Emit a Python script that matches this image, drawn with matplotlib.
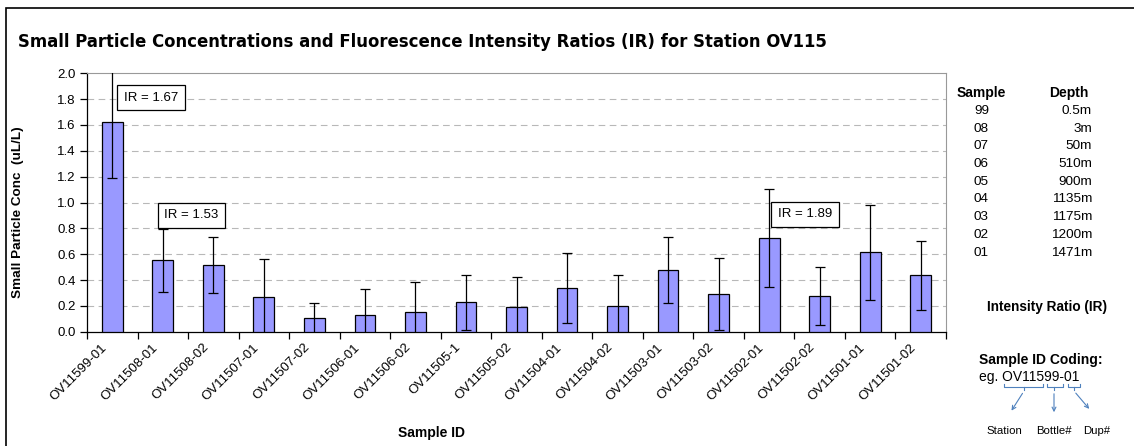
import matplotlib
matplotlib.use("Agg")
import matplotlib.pyplot as plt
from matplotlib.patches import Rectangle, FancyArrowPatch

plt.rcParams['font.family'] = ['Liberation Sans', 'DejaVu Sans']

# данные
samples = ["OV11599-01", "OV11508-01", "OV11508-02", "OV11507-01", "OV11507-02",
           "OV11506-01", "OV11506-02", "OV11505-1", "OV11505-02", "OV11504-01",
           "OV11504-02", "OV11503-01", "OV11503-02", "OV11502-01", "OV11502-02",
           "OV11501-01", "OV11501-02"]
conc = [1.625, 0.553, 0.516, 0.266, 0.106, 0.129, 0.155, 0.227, 0.189, 0.341,
        0.197, 0.478, 0.292, 0.728, 0.276, 0.614, 0.437]
err = [0.435, 0.245, 0.22, 0.30, 0.114, 0.204, 0.227, 0.21, 0.232, 0.272,
       0.245, 0.256, 0.28, 0.38, 0.226, 0.37, 0.266]

ir_labels = ["IR = 1.67", "IR = 1.53", "IR = 1.89"]
ir_pos = [(0.77, 1.81), (1.57, 0.90), (13.71, 0.91)]

sample_no = ["99", "08", "07", "06", "05", "04", "03", "02", "01"]
depths = ["0.5m", "3m", "50m", "510m", "900m", "1135m", "1175m", "1200m", "1471m"]

W, H = 1134, 446
fig = plt.figure(figsize=(W / 100, H / 100), dpi=100)

# рамка вокруг диаграммы
fig.patches.append(Rectangle((6 / W, -0.1), 1.2, 1 - 7.5 / H + 0.1, transform=fig.transFigure,
                             fill=False, edgecolor='black', linewidth=1.2))

ax = fig.add_axes([87 / W, 1 - 331.7 / H, (946 - 87) / W, (331.7 - 73.3) / H])

x = list(range(len(samples)))
ax.bar(x, conc, width=0.41, color='#9999ff', edgecolor='black', linewidth=0.9, zorder=3)
ax.errorbar(x, conc, yerr=err, fmt='none', ecolor='black', elinewidth=0.9,
            capsize=3.5, capthick=0.9, zorder=4)

ax.set_xlim(-0.5, len(samples) - 0.5)
ax.set_ylim(0, 2.0)
ax.set_yticks([i * 0.2 for i in range(11)])
ax.set_yticklabels([f"{i * 0.2:.1f}" for i in range(11)], fontsize=9.5)
for i in range(1, 10):
    ax.axhline(i * 0.2, color='#b8b8b8', linestyle=(0, (6, 4)), linewidth=0.8, zorder=1)

# большие тики на границах категорий, подписи чуть левее центра
ax.set_xticks([i + 0.5 for i in range(-1, len(samples))], minor=False)
ax.set_xticklabels([])
ax.set_xticks([i - 0.22 for i in x], minor=True)
ax.set_xticklabels(samples, minor=True, rotation=45, ha='right', rotation_mode='anchor', fontsize=9.5)
ax.tick_params(axis='x', which='major', length=5, direction='out', width=0.9)
ax.tick_params(axis='x', which='minor', length=0, pad=7)
ax.tick_params(axis='y', length=5, direction='out', width=0.9, pad=3)

ax.spines['top'].set_color('#999999')
ax.spines['right'].set_color('#999999')
ax.spines['left'].set_linewidth(0.9)
ax.spines['bottom'].set_linewidth(0.9)

for lab, (px, py) in zip(ir_labels, ir_pos):
    ax.text(px, py, lab, ha='center', va='center', fontsize=9.5, zorder=5,
            bbox=dict(boxstyle='square,pad=0.5', facecolor='white', edgecolor='black', linewidth=0.9))

fig.text(18 / W, 1 - 42 / H, "Small Particle Concentrations and Fluorescence Intensity Ratios (IR) for Station OV115",
         fontsize=11.9, fontweight='bold', ha='left', va='center', family='DejaVu Sans')
fig.text(18 / W, 1 - 212 / H, "Small Particle Conc  (uL/L)", rotation=90, fontsize=9.7,
         fontweight='bold', ha='center', va='center')
fig.text(431 / W, 1 - 433 / H, "Sample ID", fontsize=10, fontweight='bold', ha='center', va='center')

# таблица глубин справа
fig.text(957 / W, 1 - 93 / H, "Sample", fontsize=10, fontweight='bold', ha='left', va='center')
fig.text(1088 / W, 1 - 93 / H, "Depth", fontsize=10, fontweight='bold', ha='right', va='center')
for i, (s, d) in enumerate(zip(sample_no, depths)):
    yy = 1 - (111 + i * 17.7) / H
    fig.text(974 / W, yy, s, fontsize=9.7, ha='left', va='center')
    fig.text(1092 / W, yy, d, fontsize=9.7, ha='right', va='center')

fig.text(1047 / W, 1 - 307 / H, "Intensity Ratio (IR)", fontsize=9.8, fontweight='bold',
         ha='center', va='center')
fig.text(979 / W, 1 - 360 / H, "Sample ID Coding:", fontsize=10, fontweight='bold',
         ha='left', va='center')
fig.text(979 / W, 1 - 377 / H, "eg. OV11599-01", fontsize=10, ha='left', va='center')

# фигурные скобки и стрелки
blue = '#4f81bd'
braces = [(1004, 1043, 1024), (1047, 1063, 1054), (1068, 1080, 1074)]
for x0, x1, xm in braces:
    fig.add_artist(plt.Line2D([x0 / W, x0 / W, x1 / W, x1 / W],
                              [1 - 384 / H, 1 - 387 / H, 1 - 387 / H, 1 - 384 / H],
                              color=blue, linewidth=0.8, transform=fig.transFigure))
    fig.add_artist(plt.Line2D([xm / W, xm / W], [1 - 387 / H, 1 - 390 / H],
                              color=blue, linewidth=0.8, transform=fig.transFigure))
arrows = [((1024, 391), (1010, 413)), ((1054, 391), (1054, 415)), ((1074, 391), (1091, 411))]
for (sx, sy), (ex, ey) in arrows:
    fig.add_artist(FancyArrowPatch((sx / W, 1 - sy / H), (ex / W, 1 - ey / H),
                                   transform=fig.transFigure, arrowstyle='->',
                                   mutation_scale=7, color=blue, linewidth=0.8))
for lab, cx in zip(["Station", "Bottle#", "Dup#"], [1004, 1054, 1097]):
    fig.text(cx / W, 1 - 431 / H, lab, fontsize=8.2, ha='center', va='center')

fig.savefig("out.png", dpi=100)
